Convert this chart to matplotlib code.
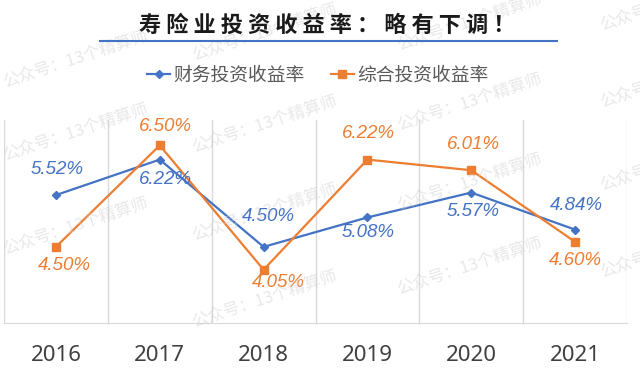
import matplotlib
matplotlib.use("Agg")
import matplotlib.pyplot as plt
from matplotlib.lines import Line2D

plt.rcParams['font.family'] = ['Noto Sans CJK SC', 'DejaVu Sans']

years = ["2016", "2017", "2018", "2019", "2020", "2021"]
financial = [5.52, 6.22, 4.50, 5.08, 5.57, 4.84]
comprehensive = [4.50, 6.50, 4.05, 6.22, 6.01, 4.60]
series_names = ["财务投资收益率", "综合投资收益率"]
title = "寿险业投资收益率：略有下调！"
watermark = "公众号：13个精算师"

blue = '#4472C4'
orange = '#ED7D31'

# label offsets in pixels (x, y) from each marker
blue_offsets = [(1, 26), (6, -20), (5, 30), (1, -15), (2, -19), (1, 24)]
orange_offsets = [(8, -19), (6, 19), (15, -13), (1, 26), (2, 26), (0, -19)]

fig = plt.figure(figsize=(6.4, 3.76), dpi=100)
ax = fig.add_axes([4 / 640, 1 - 323 / 376, 623 / 640, 203 / 376])

x = range(len(years))
ax.plot(x, financial, color=blue, lw=1.6, marker='D', ms=4, zorder=3)
ax.plot(x, comprehensive, color=orange, lw=1.6, marker='s', ms=6, zorder=3)

for i in x:
    ax.annotate(f"{financial[i]:.2f}%", (i, financial[i]), xytext=blue_offsets[i],
                textcoords='offset pixels', ha='center', va='center', color=blue,
                fontsize=13.5, family='Liberation Sans', style='italic', zorder=4)
    ax.annotate(f"{comprehensive[i]:.2f}%", (i, comprehensive[i]), xytext=orange_offsets[i],
                textcoords='offset pixels', ha='center', va='center', color=orange,
                fontsize=13.5, family='Liberation Sans', style='italic', zorder=4)

ax.set_xlim(-0.5, len(years) - 0.5)
ax.set_ylim(3, 7)
for b in [i - 0.5 for i in range(len(years) + 1)]:
    ax.axvline(b, color='#d9d9d9', lw=1, zorder=1)
for s in ['top', 'left', 'right']:
    ax.spines[s].set_visible(False)
ax.spines['bottom'].set_color('#d9d9d9')
ax.set_yticks([])
ax.set_xticks(list(x))
ax.set_xticklabels(years, fontsize=16, color='#404040', family='Noto Sans')
ax.tick_params(axis='x', length=0, pad=16)

# title with underline
fig.text(327 / 640, 1 - 25 / 376, " ".join(title), ha='center', va='center',
         fontsize=16, fontweight='bold', color='#1a1a1a')
fig.add_artist(Line2D([100 / 640, 557 / 640], [1 - 41 / 376, 1 - 41 / 376],
                      color=blue, lw=1.5))

handles = [Line2D([], [], color=blue, lw=1.6, marker='D', ms=4),
           Line2D([], [], color=orange, lw=1.6, marker='s', ms=6)]
fig.legend(handles, series_names, loc='center', bbox_to_anchor=(318 / 640, 1 - 75 / 376),
           ncol=2, frameon=False, fontsize=13.5, labelcolor='#595959',
           handlelength=1.2, handletextpad=0.2, columnspacing=1.4)

# faint watermark tiles
marks = [(6, 90), (6, 163), (6, 257),
         (195, 63), (195, 155), (195, 243), (195, 330),
         (400, 53), (400, 133), (400, 213), (400, 297),
         (603, 33), (603, 110), (603, 193), (603, 280)]
for mx, my in marks:
    fig.text(mx / 640, 1 - my / 376, watermark, ha='left', va='bottom', rotation=18,
             rotation_mode='anchor', fontsize=12, color='#cccccc', alpha=0.45, zorder=0)

fig.savefig("out.png", dpi=100)
